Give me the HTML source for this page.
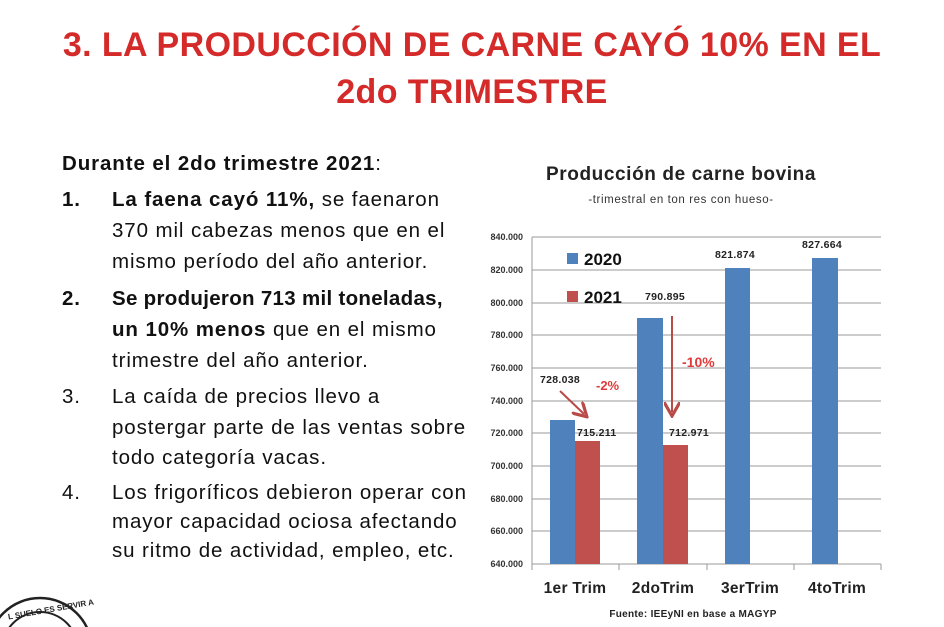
<!DOCTYPE html>
<html><head><meta charset="utf-8"><style>
html,body{margin:0;width:944px;height:627px;overflow:hidden;}
body{background:#fff;position:relative;font-family:"Liberation Sans",sans-serif;}
.t{position:absolute;white-space:nowrap;}
.h{color:#d42a2a;font-weight:bold;font-size:34px;left:0;width:944px;text-align:center;letter-spacing:0.4px;}
.l{font-size:20.5px;color:#111;letter-spacing:0.9px;}
</style></head><body>
<div class="t h" style="top:26px">3. LA PRODUCCIÓN DE CARNE CAYÓ 10% EN EL</div>
<div class="t h" style="top:73px">2do TRIMESTRE</div>
<div class="t l" style="left:62px;top:152px"><b>Durante el 2do trimestre 2021</b>:</div>
<div class="t l" style="left:62px;top:188px"><b>1.</b></div>
<div class="t l" style="left:112px;top:188px"><b>La faena cayó 11%,</b> se faenaron</div>
<div class="t l" style="left:112px;top:219px">370 mil cabezas menos que en el</div>
<div class="t l" style="left:112px;top:250px">mismo período del año anterior.</div>
<div class="t l" style="left:62px;top:287px"><b>2.</b></div>
<div class="t l" style="left:112px;top:287px;letter-spacing:0.3px"><b>Se produjeron 713 mil toneladas,</b></div>
<div class="t l" style="left:112px;top:318px"><b>un 10% menos</b> que en el mismo</div>
<div class="t l" style="left:112px;top:349px">trimestre del año anterior.</div>
<div class="t l" style="left:62px;top:385px">3.</div>
<div class="t l" style="left:112px;top:385px">La caída de precios llevo a</div>
<div class="t l" style="left:112px;top:416px">postergar parte de las ventas sobre</div>
<div class="t l" style="left:112px;top:446px">todo categoría vacas.</div>
<div class="t l" style="left:62px;top:481px">4.</div>
<div class="t l" style="left:112px;top:481px">Los frigoríficos debieron operar con</div>
<div class="t l" style="left:112px;top:510px">mayor capacidad ociosa afectando</div>
<div class="t l" style="left:112px;top:539px">su ritmo de actividad, empleo, etc.</div>

<svg width="944" height="627" style="position:absolute;left:0;top:0" font-family="Liberation Sans, sans-serif">
<defs><marker id="ar" markerWidth="8" markerHeight="8" refX="5" refY="4" orient="auto"><path d="M0,0 L7,4 L0,8" fill="none" stroke="#b84a48" stroke-width="1.6"/></marker></defs>
<text x="681" y="180" text-anchor="middle" font-size="19" font-weight="bold" fill="#222" letter-spacing="0.6">Producción  de carne bovina</text>
<text x="681" y="203" text-anchor="middle" font-size="11.5" fill="#333" letter-spacing="0.6">-trimestral en ton res con hueso-</text>
<g stroke="#999" stroke-width="1">
<line x1="532" y1="237" x2="881" y2="237"/><line x1="532" y1="270" x2="881" y2="270"/><line x1="532" y1="303" x2="881" y2="303"/><line x1="532" y1="335" x2="881" y2="335"/><line x1="532" y1="368" x2="881" y2="368"/><line x1="532" y1="401" x2="881" y2="401"/><line x1="532" y1="433" x2="881" y2="433"/><line x1="532" y1="466" x2="881" y2="466"/><line x1="532" y1="499" x2="881" y2="499"/><line x1="532" y1="531" x2="881" y2="531"/>
<line x1="532" y1="237" x2="532" y2="570"/><line x1="532" y1="564" x2="881" y2="564"/>
<line x1="619" y1="564" x2="619" y2="570"/><line x1="707" y1="564" x2="707" y2="570"/><line x1="794" y1="564" x2="794" y2="570"/><line x1="881" y1="564" x2="881" y2="570"/>
</g>
<g font-size="9" fill="#333" text-anchor="end" font-weight="bold">
<text x="523" y="240">840.000</text><text x="523" y="273">820.000</text><text x="523" y="306">800.000</text><text x="523" y="338">780.000</text><text x="523" y="371">760.000</text><text x="523" y="404">740.000</text><text x="523" y="436">720.000</text><text x="523" y="469">700.000</text><text x="523" y="502">680.000</text><text x="523" y="534">660.000</text><text x="523" y="567">640.000</text>
</g>
<g fill="#4f81bd">
<rect x="550" y="420" width="25" height="144"/><rect x="637" y="318" width="26" height="246"/><rect x="725" y="268" width="25" height="296"/><rect x="812" y="258" width="26" height="306"/>
<rect x="567" y="253" width="11" height="11"/>
</g>
<g fill="#c0504d">
<rect x="575" y="441" width="25" height="123"/><rect x="663" y="445" width="25" height="119"/>
<rect x="567" y="291" width="11" height="11"/>
</g>
<text x="584" y="265" font-size="17" font-weight="bold" fill="#111">2020</text>
<text x="584" y="303" font-size="17" font-weight="bold" fill="#111">2021</text>
<g font-size="10.5" fill="#222" font-weight="bold" letter-spacing="0.3">
<text x="540" y="383">728.038</text><text x="577" y="436">715.211</text>
<text x="645" y="300">790.895</text><text x="669" y="436">712.971</text>
<text x="715" y="258">821.874</text><text x="802" y="248">827.664</text>
</g>
<g font-size="13" fill="#e03a3a" font-weight="bold">
<text x="596" y="390">-2%</text><text x="682" y="367" font-size="14">-10%</text>
</g>
<line x1="560" y1="391" x2="584" y2="414" stroke="#b84a48" stroke-width="2" marker-end="url(#ar)"/>
<line x1="672" y1="316" x2="672" y2="412" stroke="#b84a48" stroke-width="2" marker-end="url(#ar)"/>
<g font-size="15.5" fill="#222" font-weight="bold" text-anchor="middle" letter-spacing="0.3">
<text x="575" y="593">1er Trim</text><text x="663" y="593">2doTrim</text><text x="750" y="593">3erTrim</text><text x="837" y="593">4toTrim</text>
</g>
<text x="693" y="617" text-anchor="middle" font-size="10" font-weight="bold" fill="#222" letter-spacing="0.3">Fuente: IEEyNI en base a MAGYP</text>
<circle cx="40" cy="650" r="52" fill="none" stroke="#222" stroke-width="2.5"/>
<circle cx="40" cy="650" r="38" fill="none" stroke="#222" stroke-width="2"/>
<text x="8" y="614" font-size="8" font-weight="bold" fill="#222" transform="rotate(-10 40 614)">L SUELO ES SERVIR A</text>
</svg>
</body></html>
